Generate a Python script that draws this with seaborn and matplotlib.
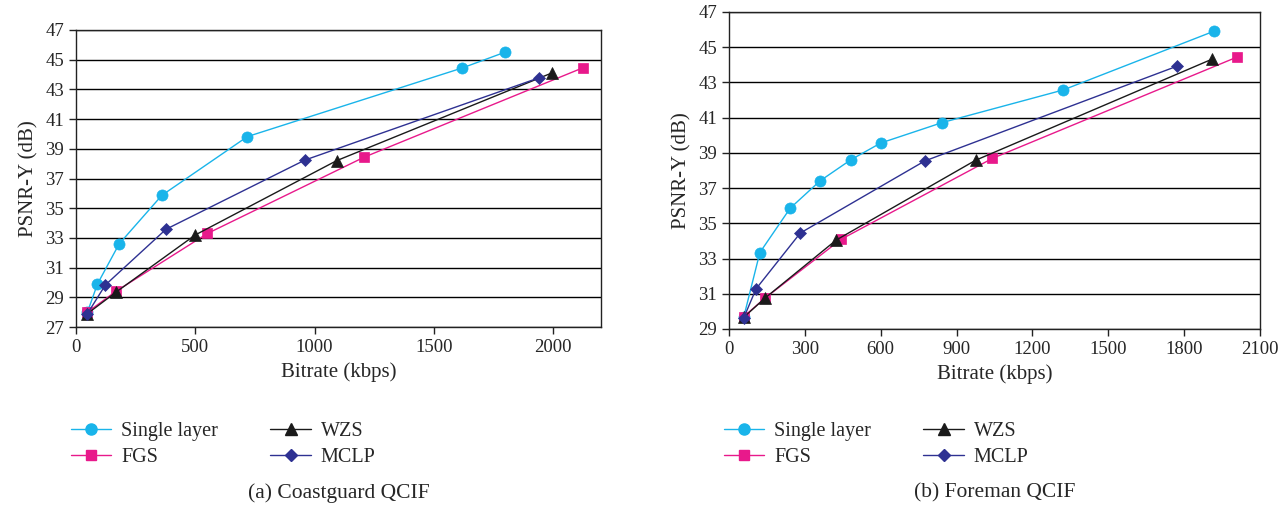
import matplotlib
matplotlib.use("Agg")
import matplotlib.pyplot as plt
import seaborn as sns
import pandas as pd
from matplotlib.lines import Line2D

# (a) Coastguard QCIF
cg_single_x = [48, 90, 181, 360, 718, 1618, 1797]
cg_single_y = [28.0, 29.9, 32.6, 35.87, 39.82, 44.44, 45.5]
cg_fgs_x = [48, 167, 551, 1208, 2125]
cg_fgs_y = [28.0, 29.4, 33.3, 38.44, 44.46]
cg_wzs_x = [48, 167, 500, 1092, 1993]
cg_wzs_y = [27.9, 29.34, 33.2, 38.2, 44.1]
cg_mclp_x = [48, 123, 377, 959, 1942]
cg_mclp_y = [27.9, 29.83, 33.58, 38.24, 43.79]

# (b) Foreman QCIF
fm_single_x = [58, 122, 242, 360, 482, 600, 843, 1321, 1918]
fm_single_y = [29.66, 33.34, 35.86, 37.41, 38.61, 39.56, 40.72, 42.57, 45.91]
fm_fgs_x = [58, 142, 444, 1042, 2009]
fm_fgs_y = [29.7, 30.75, 34.1, 38.69, 44.44]
fm_wzs_x = [58, 142, 424, 975, 1910]
fm_wzs_y = [29.66, 30.75, 34.05, 38.58, 44.32]
fm_mclp_x = [58, 107, 282, 774, 1773]
fm_mclp_y = [29.62, 31.28, 34.45, 38.54, 43.93]

series_names = ["Single layer", "FGS", "WZS", "MCLP"]
palette = {"Single layer": "#19B4EA", "FGS": "#E8198B", "WZS": "#1A1A1A", "MCLP": "#2E3192"}
markers = {"Single layer": "o", "FGS": "s", "WZS": "^", "MCLP": "D"}
msizes = {"Single layer": 8, "FGS": 7.5, "WZS": 8.5, "MCLP": 6}


def make_df(xs, ys):
    rows = []
    for name, x, y in zip(series_names, xs, ys):
        for i, (a, b) in enumerate(zip(x, y)):
            rows.append({"series": name, "idx": i, "bitrate": a, "psnr": b})
    return pd.DataFrame(rows)


sns.set_style("white")
plt.rcParams['font.family'] = ['Liberation Serif', 'DejaVu Serif']
plt.rcParams['font.size'] = 13

fig = plt.figure(figsize=(12.88, 5.07), dpi=100)
ax1 = fig.add_axes([76 / 1288, 1 - 327 / 507, 525 / 1288, 297 / 507])
ax2 = fig.add_axes([729 / 1288, 1 - 329 / 507, 531 / 1288, 317 / 507])

charts = [
    (ax1, make_df([cg_single_x, cg_fgs_x, cg_wzs_x, cg_mclp_x],
                  [cg_single_y, cg_fgs_y, cg_wzs_y, cg_mclp_y]),
     (0, 2200), range(0, 2001, 500), (27, 47), "(a) Coastguard QCIF"),
    (ax2, make_df([fm_single_x, fm_fgs_x, fm_wzs_x, fm_mclp_x],
                  [fm_single_y, fm_fgs_y, fm_wzs_y, fm_mclp_y]),
     (0, 2100), range(0, 2101, 300), (29, 47), "(b) Foreman QCIF"),
]

for ax, df, xlim, xticks, ylim, caption in charts:
    for name in series_names:
        sub = df[df.series == name]
        sns.lineplot(data=sub, x="bitrate", y="psnr", sort=False, ax=ax,
                     color=palette[name], marker=markers[name],
                     markersize=msizes[name], markeredgewidth=0.5,
                     markeredgecolor=palette[name], linewidth=1.0,
                     estimator=None, legend=False, zorder=3)
    ax.set_xlim(*xlim)
    ax.set_ylim(*ylim)
    ax.set_xticks(list(xticks))
    ax.set_yticks(range(ylim[0], ylim[1] + 1, 2))
    ax.yaxis.grid(True, color="black", linewidth=1.0)
    ax.set_axisbelow(True)
    for sp in ax.spines.values():
        sp.set_color("#222222")
        sp.set_linewidth(1.0)
    ax.tick_params(axis="both", direction="out", length=5, width=1,
                   color="#222222", labelsize=13.5, left=True, bottom=True)
    ax.set_xlabel("Bitrate (kbps)", fontsize=15, labelpad=5)
    ax.set_ylabel("PSNR-Y (dB)", fontsize=15, labelpad=5)

    handles = [Line2D([], [], color=palette[n], marker=markers[n],
                      markersize=msizes[n], linewidth=1.0) for n in series_names]
    pos = ax.get_position()
    leg = fig.legend(handles, series_names, ncol=2, loc="upper left",
                     frameon=False, fontsize=14.5, handlelength=2.0,
                     columnspacing=2.6, labelspacing=0.35, handletextpad=0.5,
                     borderaxespad=0, borderpad=0)
    leg.set_bbox_to_anchor((pos.x0 - 0.004, 1 - 422 / 507), transform=fig.transFigure)
    fig.text(pos.x0 + pos.width * 0.5, 1 - 493 / 507, caption, ha="center",
             va="center", fontsize=15.5)

fig.savefig("out.png", dpi=100)
